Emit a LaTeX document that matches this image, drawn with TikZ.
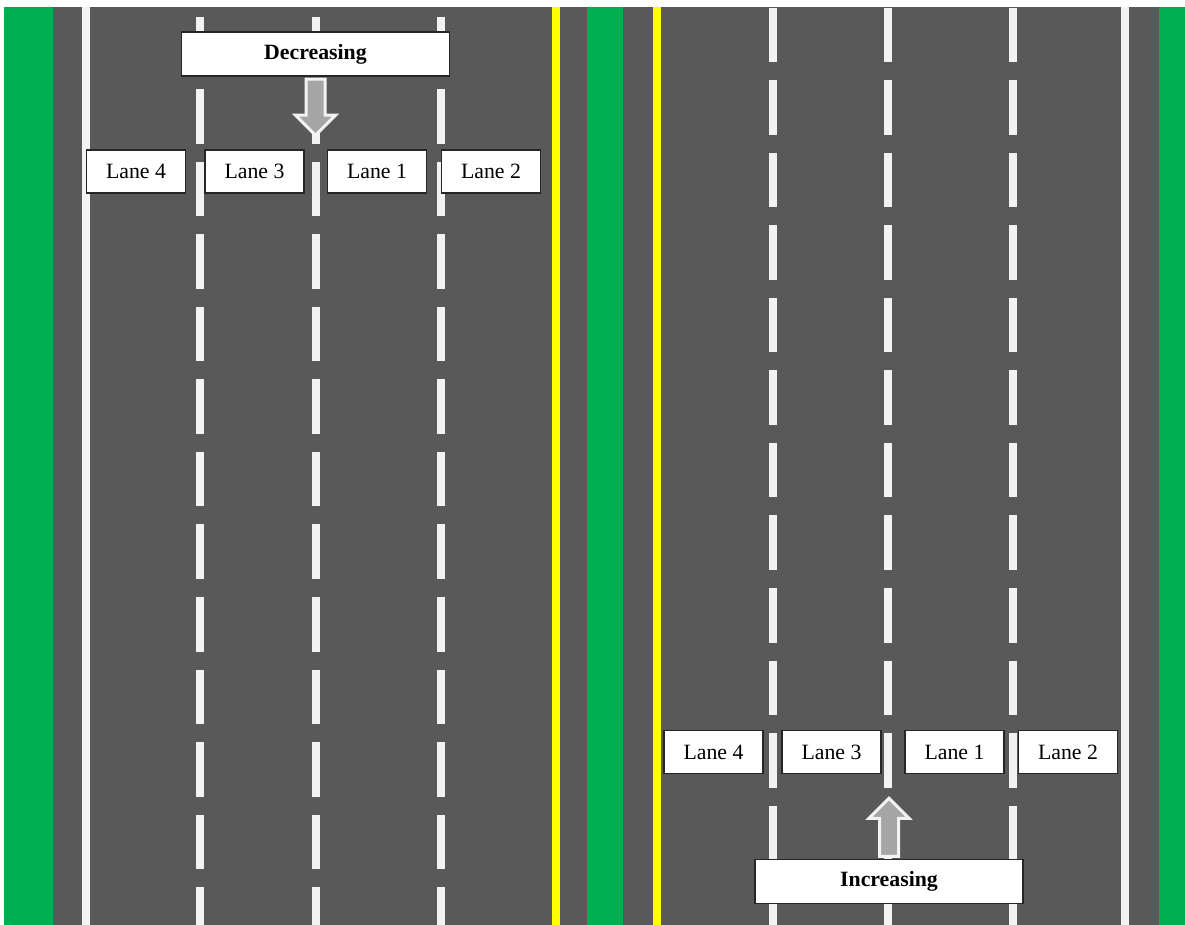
\documentclass[tikz,border=0pt]{standalone}
\usepackage{fontspec}
\setmainfont{Liberation Serif}
\usetikzlibrary{calc}
\definecolor{roadAsphalt}{HTML}{595959}
\definecolor{roadVerge}{HTML}{00B050}
\definecolor{roadPaint}{HTML}{F2F2F2}
\definecolor{roadYellow}{HTML}{FFFF00}
\definecolor{roadArrowFill}{HTML}{A6A6A6}
\definecolor{roadInk}{HTML}{262626}
\tikzset{
  roadLabel/.style={
    draw=roadInk,
    fill=white,
    line width=0.7pt,
    align=center,
    minimum width=49.5pt,
    minimum height=21.5pt,
    inner sep=0pt
  },
  roadDirection/.style={
    roadLabel,
    font=\fontsize{10.9}{13}\selectfont\bfseries,
    minimum width=134pt,
    minimum height=22pt
  },
  roadArrow/.style={draw=roadPaint, fill=roadArrowFill, line width=1.5pt},
  roadLine/.style={draw=roadPaint, line width=4pt},
  roadDash/.style={roadLine, dash pattern=on 27.25pt off 9pt}
}

\begin{document}
\begin{tikzpicture}[x=0.5pt, y=-0.5pt, font=\fontsize{10.9}{13}\selectfont]
  \useasboundingbox (0,0) rectangle (1185,925);
  \fill[white] (0,0) rectangle (1185,925);

  % pavement, verges and painted lines
  \fill[roadAsphalt] (4,7) rectangle (1185,925);
  \foreach \a/\b in {4/53,587/623,1159/1185}
    \fill[roadVerge] (\a,7) rectangle (\b,925);
  \foreach \x in {86,1124.5}
    \draw[roadLine] (\x,7) -- (\x,925);
  \foreach \x in {556,657}
    \draw[roadLine, draw=roadYellow] (\x,7) -- (\x,925);
  \foreach \x in {200,316,441}
    \draw[roadDash] (\x,17) -- (\x,925);
  \foreach \x in {773,888,1013}
    \draw[roadDash] (\x,8) -- (\x,925);

  % decreasing side
  \node[roadDirection] (dec) at (315.5,54) {Decreasing};
  \node[roadLabel] (decLaneFour) at (136,171.5) {Lane 4};
  \node[roadLabel] (decLaneThree) at (254.5,171.5) {Lane 3};
  \node[roadLabel] (decLaneOne) at (377,171.5) {Lane 1};
  \node[roadLabel] (decLaneTwo) at (491,171.5) {Lane 2};
  \draw[roadArrow] ($(dec.south)+(-9.5,2.5)$) -- ++(0,36) -- ++(-10.5,0)
    -- ++(20,20) -- ++(20,-20) -- ++(-10.5,0) -- ++(0,-36) -- cycle;

  % increasing side
  \node[roadDirection] (inc) at (889,881.5) {Increasing};
  \node[roadLabel] (incLaneFour) at (713.5,752) {Lane 4};
  \node[roadLabel] (incLaneThree) at (831.5,752) {Lane 3};
  \node[roadLabel] (incLaneOne) at (954.5,752) {Lane 1};
  \node[roadLabel] (incLaneTwo) at (1068,752) {Lane 2};
  \draw[roadArrow] ($(inc.north)+(-9.5,-2.5)$) -- ++(0,-38) -- ++(-10.5,0)
    -- ++(20,-20) -- ++(20,20) -- ++(-10.5,0) -- ++(0,38) -- cycle;
\end{tikzpicture}
\end{document}
